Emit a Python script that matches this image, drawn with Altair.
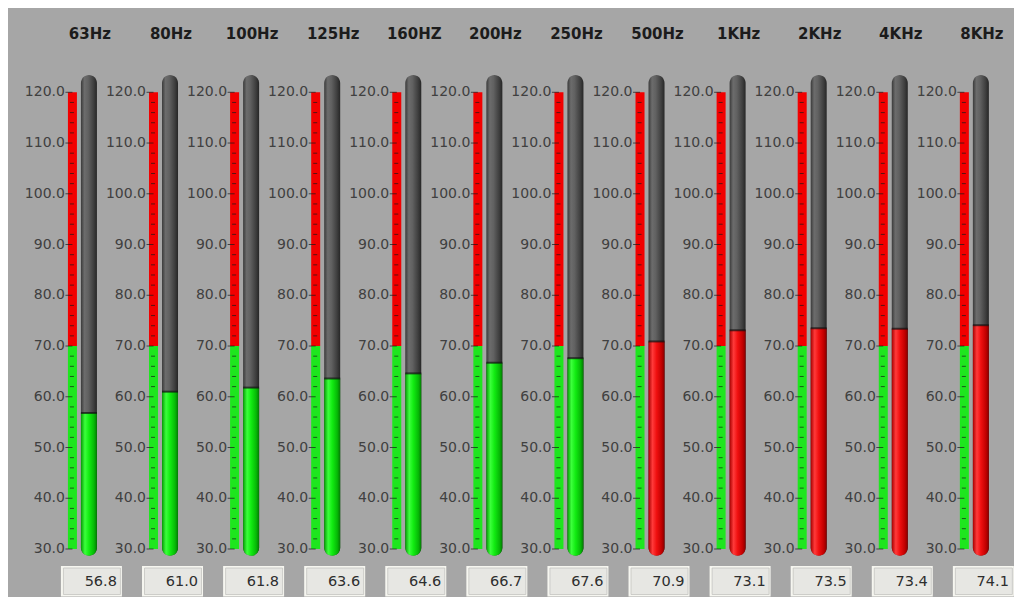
import altair as alt
import pandas as pd

# ---- data ----
freqs = ["63Hz", "80Hz", "100Hz", "125Hz", "160HZ", "200Hz", "250Hz",
         "500Hz", "1KHz", "2KHz", "4KHz", "8KHz"]
values = [56.8, 61.0, 61.8, 63.6, 64.6, 66.7, 67.6, 70.9, 73.1, 73.5, 73.4, 74.1]
major_ticks = [30, 40, 50, 60, 70, 80, 90, 100, 110, 120]
minor_ticks = [32, 34, 36, 38, 42, 44, 46, 48, 52, 54, 56, 58, 62, 64, 66, 68,
               72, 74, 76, 78, 82, 84, 86, 88, 92, 94, 96, 98, 102, 104, 106, 108,
               112, 114, 116, 118]
SCALE_MIN, SCALE_MAX, THRESHOLD = 30, 120, 70
zone_lo = [30, 70]
zone_hi = [70, 120]
zone_col = ["#1ee61e", "#f20000"]

# ---- tables ----
idx = list(range(len(freqs)))
gauges = pd.DataFrame({"idx": idx, "freq": freqs, "value": values})
gauges["vlabel"] = [f"{v:.1f}" for v in values]
gauges["lo"] = SCALE_MIN - 1.35
gauges["hi"] = SCALE_MAX + 3.4

zones = pd.DataFrame([{"idx": i, "lo": a, "hi": b, "col": c}
                      for i in idx for a, b, c in zip(zone_lo, zone_hi, zone_col)])
majors = pd.DataFrame([{"idx": i, "t": t, "tl": f"{t:.1f}"} for i in idx for t in major_ticks])
minors = pd.DataFrame([{"idx": i, "t": t} for i in idx for t in minor_ticks])

xs = alt.Scale(domain=[-0.9364, 11.2976], nice=False, zero=False)
ys = alt.Scale(domain=[20.54, 136.61], nice=False, zero=False)
X = alt.X("idx:Q", scale=xs, axis=None)

def grad(stops):
    return alt.Gradient(gradient="linear", x1=0, x2=1, y1=0, y2=0,
                        stops=[alt.GradientStop(color=c, offset=o) for o, c in stops])

gray_g = grad([(0, "#3a3a3a"), (0.22, "#6c6c6c"), (0.45, "#616161"), (0.8, "#3e3e3e"), (1, "#262626")])
green_g = grad([(0, "#069a06"), (0.25, "#3cff3c"), (0.5, "#12ec12"), (0.82, "#06b806"), (1, "#047a04")])
red_g = grad([(0, "#a80000"), (0.25, "#ff3a3a"), (0.5, "#f01010"), (0.82, "#c00000"), (1, "#860000")])

FONT = "DejaVu Sans"

strip = alt.Chart(zones).mark_bar(size=9, xOffset=-16.5).encode(
    x=X, y=alt.Y("lo:Q", scale=ys, axis=None), y2="hi:Q",
    color=alt.Color("col:N", scale=None))

minor_t = alt.Chart(minors).mark_tick(orient="horizontal", size=4, thickness=1,
                                      color="#1a1a1a", xOffset=-17).encode(
    x=X, y=alt.Y("t:Q", scale=ys, axis=None))

major_t = alt.Chart(majors).mark_tick(orient="horizontal", size=7, thickness=1,
                                      color="#1a1a1a", xOffset=-20).encode(
    x=X, y=alt.Y("t:Q", scale=ys, axis=None))

labels = alt.Chart(majors).mark_text(align="right", baseline="middle", dx=-24,
                                     font=FONT, fontSize=14, color="#404040").encode(
    x=X, y=alt.Y("t:Q", scale=ys, axis=None), text="tl:N")

tube = alt.Chart(gauges).mark_bar(size=16, cornerRadius=8, color=gray_g).encode(
    x=X, y=alt.Y("lo:Q", scale=ys, axis=None), y2="hi:Q")

fill_g = alt.Chart(gauges).transform_filter(f"datum.value < {THRESHOLD}").mark_bar(
    size=16, cornerRadiusBottomLeft=8, cornerRadiusBottomRight=8, color=green_g).encode(
    x=X, y=alt.Y("lo:Q", scale=ys, axis=None), y2="value:Q")

fill_r = alt.Chart(gauges).transform_filter(f"datum.value >= {THRESHOLD}").mark_bar(
    size=16, cornerRadiusBottomLeft=8, cornerRadiusBottomRight=8, color=red_g).encode(
    x=X, y=alt.Y("lo:Q", scale=ys, axis=None), y2="value:Q")

level = alt.Chart(gauges).mark_tick(orient="horizontal", size=16, thickness=2,
                                    color="#111111").encode(
    x=X, y=alt.Y("value:Q", scale=ys, axis=None))

titles = alt.Chart(gauges).mark_text(align="center", baseline="middle", font=FONT,
                                     fontSize=15, fontWeight="bold", color="#1c1c1c",
                                     dx=1).encode(
    x=X, y=alt.value(25.5), text="freq:N")

box_out = alt.Chart(gauges).mark_bar(size=61, xOffset=2.5, color="#f6f6f0").encode(
    x=X, y=alt.value(558), y2=alt.value(588.5))
box_in = alt.Chart(gauges).mark_bar(size=57, xOffset=3.0, color="#e7e7e3",
                                    stroke="#c4c4c0", strokeWidth=0.8).encode(
    x=X, y=alt.value(560), y2=alt.value(586.5))

vtext = alt.Chart(gauges).mark_text(align="right", baseline="middle", dx=28,
                                    font=FONT, fontSize=14.5, color="#2e2e2e").encode(
    x=X, y=alt.value(573.5), text="vlabel:N")

chart = alt.layer(strip, minor_t, major_t, labels, tube, fill_g, fill_r, level,
                  titles, box_out, box_in, vtext).properties(
    width=1006, height=589, background="#a6a6a6", padding=0,
    autosize=alt.AutoSizeParams(type="fit", contains="padding")
).configure_view(stroke=None)

chart.save("out.html", embed_options={"renderer": "svg", "actions": False})
